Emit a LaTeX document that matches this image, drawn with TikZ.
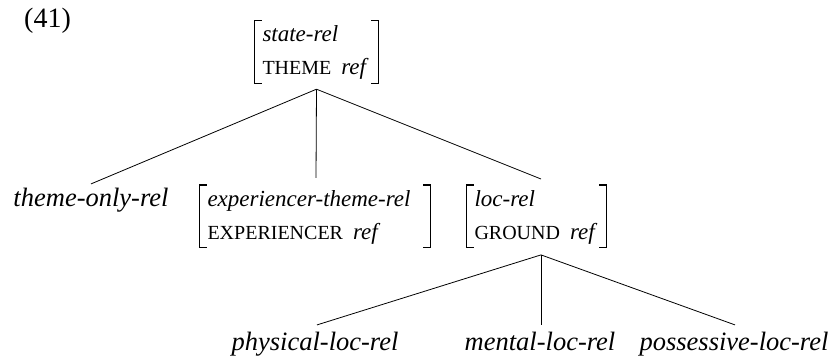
\documentclass[tikz,border=0pt]{standalone}
\usepackage{fontspec}
\setmainfont{Liberation Serif}
\newcommand\fsc[1]{{\fontsize{20}{24}\selectfont #1}}
\begin{document}
\begin{tikzpicture}[x=1pt,y=1pt,
  lbl/.style={font=\fontsize{26.5}{30}\selectfont\itshape, inner sep=0pt, anchor=base},
  avm/.style={align=left, inner xsep=7.5pt, inner ysep=0pt, anchor=base,
    text height=21.5pt, text depth=41pt, font=\fontsize{23}{33}\selectfont},
  edge/.style={line width=0.8pt},
  brk/.style={line width=1.2pt}]
\useasboundingbox (0,0) rectangle (833,358);
\node[font=\fontsize{28}{32}\selectfont, inner sep=0pt, anchor=base] (num) at (47.5,330.5) {(41)};
\node[avm, text width=108pt] (top) at (316.5,316) {\textit{state-rel}\\\fsc{THEME}\hspace{10pt}\textit{ref}};
\node[lbl] (tor) at (91,151.5) {theme-only-rel};
\node[avm, text width=215pt] (exp) at (315,151.3) {\textit{experiencer-theme-rel}\\\fsc{EXPERIENCER}\hspace{10pt}\textit{ref}};
\node[avm, text width=124pt] (loc) at (536.5,151.3) {\textit{loc-rel}\\\fsc{GROUND}\hspace{10pt}\textit{ref}};
\node[lbl] (phy) at (315,7.5) {physical-loc-rel};
\node[lbl] (men) at (540,7.5) {mental-loc-rel};
\node[lbl] (pos) at (734,7.5) {possessive-loc-rel};
\foreach \n in {top,exp,loc}{
  \draw[brk] ([xshift=7pt]\n.north west) -- (\n.north west) -- (\n.south west) -- ([xshift=7pt]\n.south west);
  \draw[brk] ([xshift=-7pt]\n.north east) -- (\n.north east) -- (\n.south east) -- ([xshift=-7pt]\n.south east);
}
\coordinate (r1) at ([yshift=-6pt]top.south);
\coordinate (r2) at ([xshift=4.5pt,yshift=-7pt]loc.south);
\draw[edge] (r1) -- ([yshift=4pt]tor.north);
\draw[edge] (r1) -- ([xshift=1pt,yshift=7pt]exp.north);
\draw[edge] (r1) -- ([xshift=4.5pt,yshift=6pt]loc.north);
\draw[edge] (r2) -- ([xshift=2pt,yshift=7pt]phy.north);
\draw[edge] (r2) -- ([xshift=1pt,yshift=7pt]men.north);
\draw[edge] (r2) -- ([xshift=1pt,yshift=7pt]pos.north);
\end{tikzpicture}
\end{document}
